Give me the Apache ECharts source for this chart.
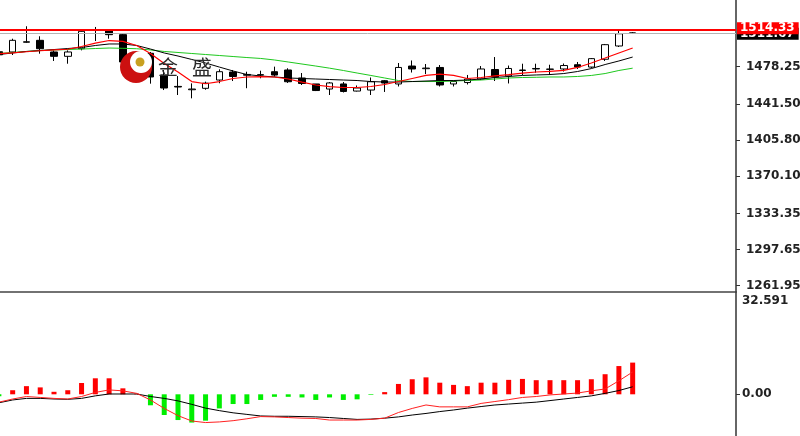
<!DOCTYPE html>
<html><head><meta charset="utf-8">
<script src="https://cdn.jsdelivr.net/npm/echarts@6/dist/echarts.min.js"></script>
<style>html,body{margin:0;padding:0;background:#fff}#c{width:800px;height:436px}</style>
</head><body><div id="c"></div>
<script>
// ---- data ----
const categories = ['B01','B02','B03','B04','B05','B06','B07','B08','B09','B10','B11','B12','B13','B14','B15','B16','B17','B18','B19','B20','B21','B22','B23','B24','B25','B26','B27','B28','B29','B30','B31','B32','B33','B34','B35','B36','B37','B38','B39','B40','B41','B42','B43','B44','B45','B46','B47','B48','B49','B50','B51','B52','B53','B54'];
const opens  = [1493.0,1492.8,1502.4,1504.3,1492.8,1488.5,1496.0,1514.2,1513.5,1509.9,1483.2,1491.5,1470.1,1458.8,1455.5,1456.9,1465.1,1473.0,1469.8,1470.0,1473.3,1475.0,1467.1,1461.2,1456.2,1461.2,1454.2,1455.2,1464.4,1461.2,1478.9,1476.3,1477.5,1461.2,1462.6,1466.1,1475.5,1469.1,1474.5,1476.0,1475.9,1476.0,1480.2,1477.9,1485.6,1498.7,1511.3];
const closes = [1490.0,1504.3,1502.9,1496.0,1488.5,1492.8,1513.2,1514.6,1509.9,1482.9,1489.0,1468.1,1457.2,1458.2,1456.2,1462.0,1473.3,1468.6,1470.6,1470.4,1470.0,1463.4,1461.7,1454.7,1462.2,1453.8,1457.2,1463.4,1462.1,1477.5,1476.0,1476.9,1460.2,1463.6,1466.1,1476.0,1468.1,1476.5,1475.0,1476.5,1475.7,1479.4,1477.9,1486.2,1500.0,1510.8,1511.67];
const lows   = [1488.5,1489.8,1501.8,1491.1,1483.9,1481.2,1494.4,1503.6,1505.9,1481.9,1480.0,1461.5,1455.2,1450.3,1447.0,1455.5,1461.9,1464.1,1457.0,1466.8,1468.4,1462.2,1460.2,1454.2,1450.3,1452.8,1453.8,1450.3,1453.3,1458.7,1472.5,1471.0,1458.7,1458.7,1460.7,1465.1,1464.1,1461.7,1469.8,1472.3,1470.4,1473.5,1476.0,1476.9,1483.9,1497.7,1511.2];
const highs  = [1494.0,1505.9,1518.2,1508.3,1494.4,1494.4,1514.2,1517.5,1515.2,1510.8,1489.5,1492.8,1475.0,1469.0,1461.8,1463.5,1475.7,1475.0,1473.3,1474.3,1478.3,1476.7,1472.0,1461.2,1463.1,1463.1,1459.7,1467.6,1465.1,1481.9,1484.4,1480.9,1479.9,1464.6,1470.1,1478.9,1487.8,1479.4,1481.2,1481.2,1480.2,1481.4,1482.9,1486.8,1500.7,1513.5,1512.4];
const maRed   = [1491.1,1492.0,1493.0,1494.0,1494.8,1495.5,1498.2,1501.6,1504.1,1503.3,1499.2,1491.3,1481.4,1473.0,1463.6,1461.4,1463.6,1466.6,1468.1,1468.4,1468.1,1466.1,1463.1,1460.2,1458.5,1457.7,1457.7,1458.7,1460.7,1463.6,1466.6,1469.6,1471.0,1469.6,1466.6,1467.6,1469.1,1470.5,1472.0,1473.0,1473.7,1474.7,1477.5,1481.9,1486.8,1491.8,1496.7];
const maBlack = [1490.3,1491.8,1493.3,1494.2,1495.2,1496.2,1497.2,1499.2,1500.7,1500.7,1499.2,1495.7,1491.8,1488.8,1485.4,1481.9,1477.9,1474.0,1470.5,1469.1,1468.1,1467.1,1466.6,1466.1,1465.6,1465.1,1464.6,1463.6,1463.1,1463.1,1463.6,1464.1,1464.6,1464.6,1465.1,1466.1,1467.6,1468.6,1469.6,1470.1,1470.5,1471.5,1473.5,1476.4,1480.4,1483.9,1487.8];
const maGreen = [1491.3,1492.3,1493.3,1494.2,1494.8,1495.2,1495.7,1496.2,1496.7,1496.4,1496.0,1494.8,1493.3,1492.3,1491.3,1490.3,1489.3,1488.3,1487.3,1486.4,1484.9,1482.9,1480.9,1478.9,1476.8,1474.5,1472.0,1469.6,1467.1,1464.6,1463.6,1463.6,1463.6,1464.1,1464.6,1465.1,1466.1,1467.1,1467.6,1467.8,1468.1,1468.1,1468.6,1469.6,1471.5,1474.5,1476.8];
const macdHist  = [-0.6,1.3,2.6,2.2,0.8,1.3,3.6,5.1,5.1,1.9,0.2,-3.5,-6.6,-8.2,-9.0,-8.4,-4.5,-3.1,-3.1,-1.8,-0.8,-0.8,-1.0,-1.8,-1.0,-1.8,-1.6,-0.2,0.7,3.3,4.8,5.4,3.7,3.0,2.6,3.7,3.7,4.6,4.9,4.5,4.5,4.5,4.5,4.8,6.4,9.0,10.1];
const macdRed   = [-2.5,-1.5,-0.7,-1.0,-1.3,-1.5,-0.7,0.6,1.4,1.1,0.3,-1.8,-4.5,-6.8,-8.5,-9.0,-8.8,-8.4,-7.8,-7.1,-7.2,-7.4,-7.6,-7.7,-8.2,-8.2,-8.2,-8.0,-7.6,-5.8,-4.5,-3.4,-4.0,-4.0,-4.0,-2.9,-2.3,-1.7,-1.0,-0.7,-0.2,0.1,0.4,1.1,1.7,4.3,7.1];
const macdBlack = [-2.7,-1.8,-1.3,-1.3,-1.5,-1.6,-1.3,-0.5,0.1,0.1,0.1,-0.7,-1.3,-2.1,-3.2,-4.4,-5.2,-5.9,-6.4,-6.9,-7.0,-7.0,-7.1,-7.2,-7.4,-7.7,-8.0,-7.9,-7.6,-7.2,-6.6,-6.1,-5.5,-5.0,-4.4,-3.9,-3.4,-3.1,-2.8,-2.5,-2.0,-1.5,-1.0,-0.5,0.3,1.2,2.4];
const priceTicks = [1261.95,1297.65,1333.35,1370.10,1405.80,1441.50,1478.25];
const priceTickLabels = ['1261.95','1297.65','1333.35','1370.10','1405.80','1441.50','1478.25'];
const macdTicks = [0, 32.591];
const macdTickLabels = ['0.00','32.591'];
const levelPrice = 1514.33, levelLabel = '1514.33';
const bidPrice = 1511.67, bidLabel = '1511.67';
const watermarkText = ['金','盛'];

// ---- chart ----
const chart = echarts.init(document.getElementById('c'), null, {renderer:'canvas'});
const lblFont = {fontFamily:'DejaVu Sans', fontWeight:'bold', fontSize:12, color:'#222'};
const candles = opens.map((o,i)=>[o, closes[i], lows[i], highs[i]]);

chart.setOption({
  animation:false,
  backgroundColor:'#ffffff',
  grid:[
    {left:-8, right:64, top:0, height:292, containLabel:false, outerBoundsMode:'none'},
    {left:-8, right:64, top:292, bottom:0, containLabel:false, outerBoundsMode:'none'}
  ],
  xAxis:[
    {type:'category', gridIndex:0, data:categories, boundaryGap:true,
     axisLine:{show:true, onZero:false, lineStyle:{color:'#444', width:1.5}},
     axisTick:{show:false}, axisLabel:{show:false}, splitLine:{show:false}},
    {type:'category', gridIndex:1, data:categories, boundaryGap:true,
     axisLine:{show:false, onZero:false}, axisTick:{show:false}, axisLabel:{show:false}, splitLine:{show:false}}
  ],
  yAxis:[
    {type:'value', gridIndex:0, position:'right', min:1255.73, max:1544.13,
     axisLine:{show:true, lineStyle:{color:'#333', width:1.5}},
     axisTick:{show:true, length:4, customValues:priceTicks, lineStyle:{color:'#333'}},
     axisLabel:Object.assign({customValues:priceTicks, margin:10, showMinLabel:true, showMaxLabel:true,
       formatter:v=>{const i=priceTicks.findIndex(t=>Math.abs(t-v)<0.001);return i>=0?priceTickLabels[i]:'';}}, lblFont),
     splitLine:{show:false}},
    {type:'value', gridIndex:1, position:'right', min:-13.283, max:32.591,
     axisLine:{show:true, onZero:false, lineStyle:{color:'#333', width:1.5}},
     axisTick:{show:true, length:4, customValues:[0], lineStyle:{color:'#333'}},
     axisLabel:Object.assign({customValues:macdTicks, margin:6, showMinLabel:true, showMaxLabel:true,
       formatter:v=>{const i=macdTicks.findIndex(t=>Math.abs(t-v)<0.0001); if(i<0) return ''; return i===1?('{t|'+macdTickLabels[i]+'}'):macdTickLabels[i];},
       rich:{t:Object.assign({padding:[17,0,0,0]}, lblFont)}}, lblFont),
     splitLine:{show:false}}
  ],
  series:[
    {type:'candlestick', xAxisIndex:0, yAxisIndex:0, data:candles, barWidth:7,
     itemStyle:{color:'#ffffff', color0:'#000000', borderColor:'#000000', borderColor0:'#000000', borderWidth:1}},
    {type:'line', xAxisIndex:0, yAxisIndex:0, data:maGreen, symbol:'none', lineStyle:{color:'#1ec81e', width:1}},
    {type:'line', xAxisIndex:0, yAxisIndex:0, data:maBlack, symbol:'none', lineStyle:{color:'#000000', width:1}},
    {type:'line', xAxisIndex:0, yAxisIndex:0, data:maRed, symbol:'none', lineStyle:{color:'#ff0000', width:1.2},
     markLine:{silent:true, symbol:'none', animation:false,
       data:[
         {yAxis:bidPrice, lineStyle:{color:'#b4b4b4', width:1, type:'solid'},
          label:{show:true, position:'end', distance:1, formatter:bidLabel, backgroundColor:'#000', color:'#fff',
                 fontFamily:'DejaVu Sans', fontWeight:'bold', fontSize:12, lineHeight:12, padding:[0,4,0,3], offset:[0,1]}},
         {yAxis:levelPrice, lineStyle:{color:'#ff0000', width:2, type:'solid'},
          label:{show:true, position:'end', distance:1, formatter:levelLabel, backgroundColor:'#ff0000', color:'#fff',
                 fontFamily:'DejaVu Sans', fontWeight:'bold', fontSize:12, lineHeight:12, padding:[0,4,0,3], offset:[0,-2]}}
       ]}},
    {type:'bar', xAxisIndex:1, yAxisIndex:1, data:macdHist, barWidth:5,
     itemStyle:{color:p=>p.value>=0?'#ff0000':'#00ee00'}},
    {type:'line', xAxisIndex:1, yAxisIndex:1, data:macdBlack, symbol:'none', lineStyle:{color:'#000', width:1}},
    {type:'line', xAxisIndex:1, yAxisIndex:1, data:macdRed, symbol:'none', lineStyle:{color:'#ff2020', width:1}}
  ],
  graphic:[
    {type:'circle', z:100, shape:{cx:136, cy:67, r:16}, style:{fill:'#cc1010'}},
    {type:'circle', z:101, shape:{cx:141, cy:62, r:11}, style:{fill:'#ffffff'}},
    {type:'circle', z:102, shape:{cx:140, cy:62, r:4.5}, style:{fill:'#c8a020'}},
    {type:'text', z:103, x:158, y:57, style:{text:watermarkText[0], font:'20px "Noto Sans CJK SC"', fill:'#2a2a2a'}},
    {type:'text', z:103, x:192, y:57, style:{text:watermarkText[1], font:'20px "Noto Sans CJK SC"', fill:'#2a2a2a'}}
  ]
});
</script></body></html>
